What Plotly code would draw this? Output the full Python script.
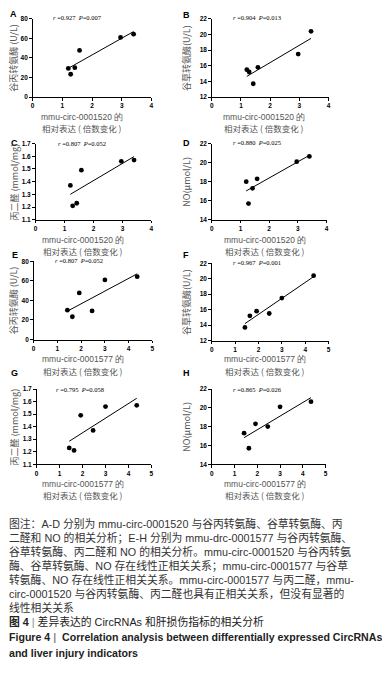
import numpy as np
import plotly.graph_objects as go

W, H = 382, 682

# ---------------- data ----------------
circ1520 = [1.20, 1.28, 1.42, 1.58, 2.96, 3.40]
circ1577 = [2.46, 1.63, 1.42, 1.92, 3.00, 4.36]
alt = [29.3, 23.3, 30.0, 47.7, 61.0, 64.3]
ast = [15.5, 15.2, 13.7, 15.8, 17.5, 20.4]
mda = [1.37, 1.21, 1.23, 1.49, 1.56, 1.57]
no_ = [18.0, 15.7, 17.3, 18.3, 20.1, 20.65]

panel_labels = ["A", "B", "C", "D", "E", "F", "G", "H"]
r_values = ["0.927", "0.904", "0.807", "0.880", "0.807", "0.967", "0.795", "0.865"]
p_values = ["0.007", "0.013", "0.052", "0.025", "0.052", "0.001", "0.058", "0.026"]
y_titles = ["谷丙转氨酶 (U/L)", "谷草转氨酶(U/L)", "丙二醛 (mmol/mg)", "NO(μmol/L)",
            "谷丙转氨酶 (U/L)", "谷草转氨酶(U/L)", "丙二醛 (mmol/mg)", "NO(μmol/L)"]
x_title_line1 = ["mmu-circ-0001520 的"] * 4 + ["mmu-circ-0001577 的"] * 4
x_title_line2 = "相对表达 ( 倍数变化 )"
x_ranges = [[0, 4]] * 4 + [[0, 5]] * 4
y_ranges = [[0, 80], [12, 22], [1.1, 1.7], [14, 22], [0, 80], [12, 22], [1.1, 1.7], [14, 22]]
y_dticks = [20, 2, 0.1, 2, 20, 2, 0.1, 2]

xs_list = [circ1520] * 4 + [circ1577] * 4
ys_list = [alt, ast, mda, no_, alt, ast, mda, no_]

caption_lines = [
    "图注：A-D 分别为 mmu-circ-0001520 与谷丙转氨酶、谷草转氨酶、丙",
    "二醛和 NO 的相关分析；E-H 分别为 mmu-drc-0001577 与谷丙转氨酶、",
    "谷草转氨酶、丙二醛和 NO 的相关分析。mmu-circ-0001520 与谷丙转氨",
    "酶、谷草转氨酶、NO 存在线性正相关关系；mmu-circ-0001577 与谷草",
    "转氨酶、NO 存在线性正相关关系。mmu-circ-0001577 与丙二醛，mmu-",
    "circ-0001520 与谷丙转氨酶、丙二醛也具有正相关关系，但没有显著的",
    "线性相关关系",
    "<span style='color:#222'><b>图 4</b> <span style='color:#888'>|</span> 差异表达的 CircRNAs 和肝损伤指标的相关分析</span>",
]
fig_title_en1 = "<b>Figure 4 <span style='color:#888'>|</span>  Correlation analysis between differentially expressed CircRNAs</b>"
fig_title_en2 = "<b>and liver injury indicators</b>"

# ---------------- layout geometry (pixels) ----------------
# (x0, x1, ytop, ybottom) of each plotting area
boxes = [(31, 151, 15, 94), (212, 330, 15, 94),
         (34, 151, 141, 218), (212, 328, 141, 218),
         (32, 152, 260, 339), (212, 330, 262, 340),
         (35, 151, 389, 465), (212, 327, 389, 465)]
label_pos = [(12, 10), (186, 11), (13, 140), (186, 140),
             (13, 254), (186, 254), (13, 373), (186, 373)]
stat_pos = [(50, 14), (231, 14), (55, 141), (231, 140),
            (52, 259), (231, 261), (53, 389), (231, 389)]
ytitle_x = [12, 187, 13, 187, 12, 187, 13, 187]
xtitle_pos = [(81, 114), (265, 114), (82, 238), (266, 238),
              (82, 359), (266, 359), (82, 485), (266, 485)]


def fx(px):
    return px / W


def fy(py):
    return 1 - py / H


fig = go.Figure()
annotations = []
CJK = "Noto Sans CJK SC"
GRAY = "#555555"

for i in range(8):
    n = "" if i == 0 else str(i + 1)
    xa, ya = "x" + n, "y" + n
    x = np.array(xs_list[i])
    y = np.array(ys_list[i])
    fig.add_trace(go.Scatter(x=x, y=y, mode="markers", xaxis=xa, yaxis=ya,
                             marker=dict(color="black", size=4.8), showlegend=False,
                             hoverinfo="skip"))
    k, b = np.polyfit(x, y, 1)
    lx = np.array([x.min(), x.max()])
    fig.add_trace(go.Scatter(x=lx, y=k * lx + b, mode="lines", xaxis=xa, yaxis=ya,
                             line=dict(color="black", width=1), showlegend=False,
                             hoverinfo="skip"))
    x0, x1, yt, yb = boxes[i]
    common = dict(showline=True, linecolor="black", linewidth=1.2, ticks="outside",
                  ticklen=2.5, tickwidth=1, tickcolor="black", showgrid=False, zeroline=False,
                  tickfont=dict(family="Liberation Sans", size=6.5, color="black", weight="bold"))
    fig.layout["xaxis" + n] = dict(domain=[fx(x0), fx(x1)], anchor=ya, range=x_ranges[i],
                                   dtick=1, tick0=0, **common)
    fig.layout["yaxis" + n] = dict(domain=[fy(yb), fy(yt)], anchor=xa, range=y_ranges[i],
                                   dtick=y_dticks[i], tick0=y_ranges[i][0], **common)

    lx0, ly0 = label_pos[i]
    annotations.append(dict(text="<b>" + panel_labels[i] + "</b>", x=fx(lx0), y=fy(ly0),
                            xref="paper", yref="paper", showarrow=False, xanchor="center",
                            yanchor="middle", font=dict(family="Liberation Sans", size=9, color="black")))
    sx, sy = stat_pos[i]
    annotations.append(dict(text="<i>r</i> =" + r_values[i] + "  <i>P</i>=" + p_values[i],
                            x=fx(sx), y=fy(sy), xref="paper", yref="paper", showarrow=False,
                            xanchor="left", yanchor="middle",
                            font=dict(family="Liberation Serif", size=6.5, color="black")))
    annotations.append(dict(text=y_titles[i], x=fx(ytitle_x[i]), y=fy((yt + yb) / 2),
                            xref="paper", yref="paper", showarrow=False, textangle=-90,
                            xanchor="center", yanchor="middle",
                            font=dict(family=CJK, size=9, color=GRAY)))
    tx, ty = xtitle_pos[i]
    annotations.append(dict(text=x_title_line1[i], x=fx(tx), y=fy(ty), xref="paper", yref="paper",
                            showarrow=False, xanchor="center", yanchor="middle",
                            font=dict(family="Liberation Sans", size=8.5, color=GRAY)))
    annotations.append(dict(text=x_title_line2, x=fx(tx), y=fy(ty + 11.5), xref="paper", yref="paper",
                            showarrow=False, xanchor="center", yanchor="middle",
                            font=dict(family=CJK, size=8.5, color=GRAY)))

annotations.append(dict(text="<br>".join(caption_lines), x=fx(5), y=fy(516), xref="paper",
                        yref="paper", showarrow=False, xanchor="left", yanchor="top", align="left",
                        font=dict(family="Liberation Sans, Noto Sans CJK SC", size=10.8,
                                  color="#333333")))
annotations.append(dict(text=fig_title_en1, x=fx(5), y=fy(640), xref="paper", yref="paper",
                        showarrow=False, xanchor="left", yanchor="middle",
                        font=dict(family="Liberation Sans Narrow, Liberation Sans", size=10.6, color="#222222")))
annotations.append(dict(text=fig_title_en2, x=fx(5), y=fy(656), xref="paper", yref="paper",
                        showarrow=False, xanchor="left", yanchor="middle",
                        font=dict(family="Liberation Sans Narrow, Liberation Sans", size=10.6, color="#222222")))

fig.update_layout(width=W, height=H, margin=dict(l=0, r=0, t=0, b=0),
                  paper_bgcolor="white", plot_bgcolor="white", annotations=annotations,
                  showlegend=False)

fig.write_html("out.html", config={"displayModeBar": False},
               post_script="document.body.style.margin='0';document.body.style.overflow='hidden';")
